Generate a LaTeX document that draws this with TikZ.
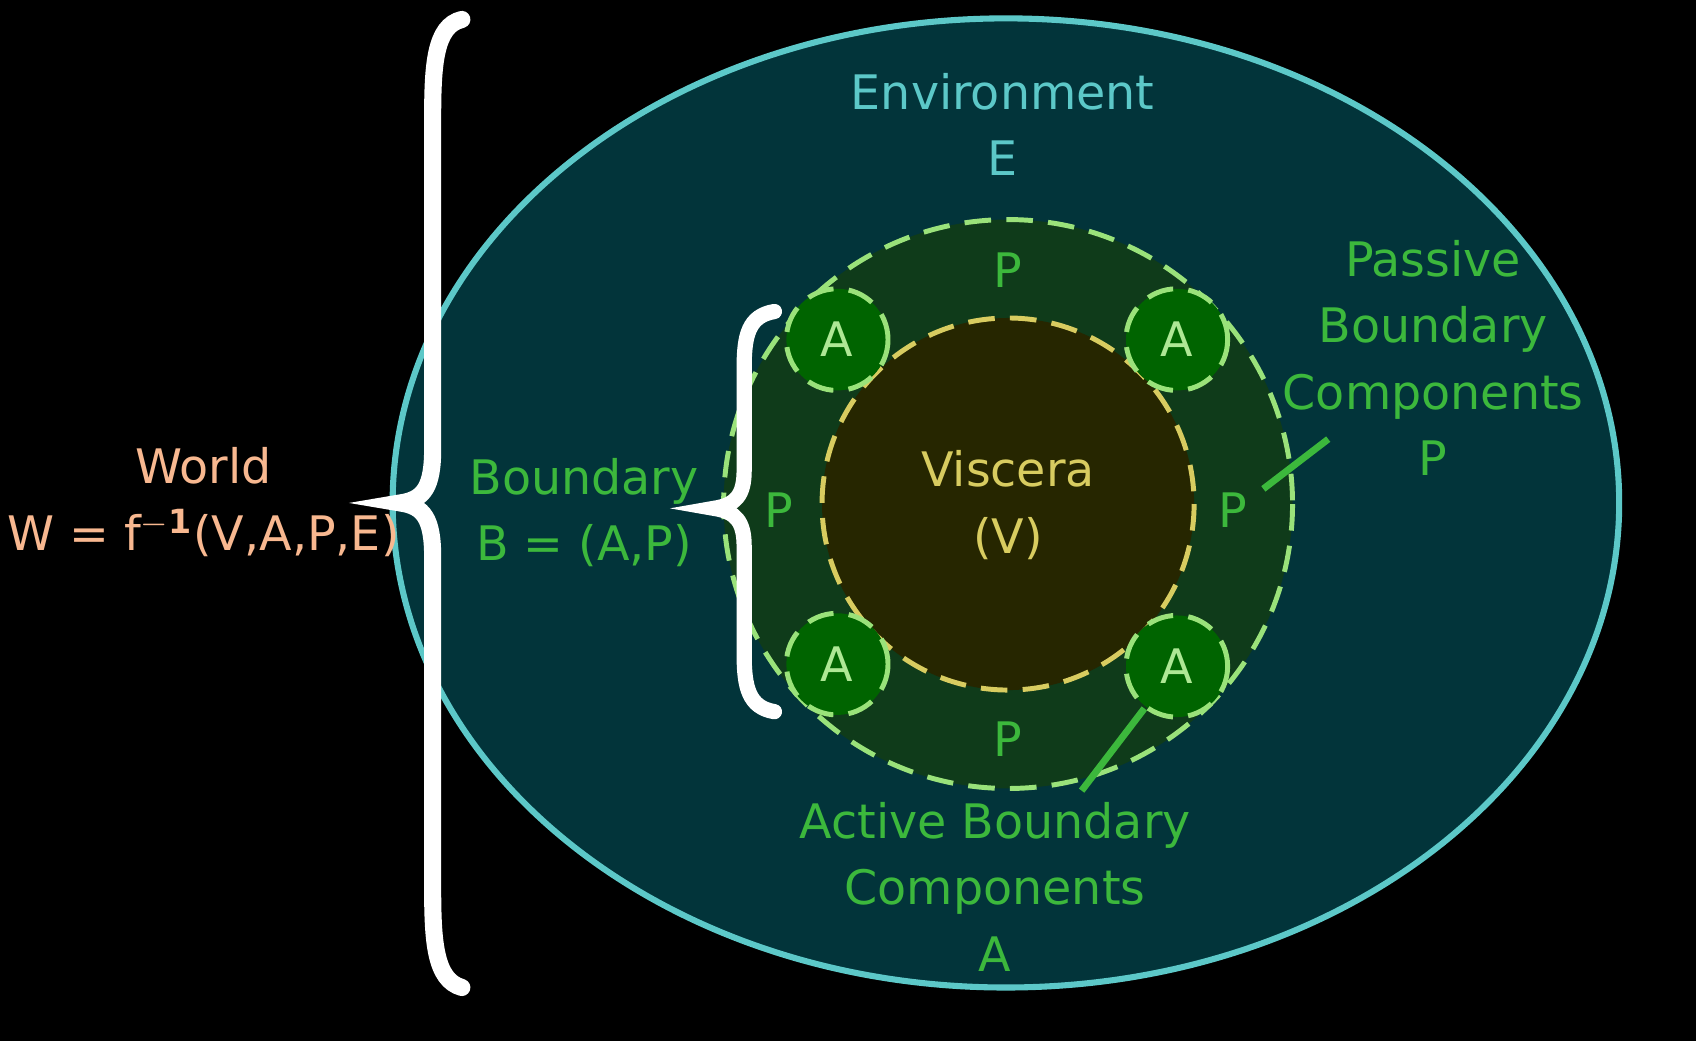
\documentclass[tikz,border=0pt]{standalone}
\usepackage{fontspec}
\setmainfont{DejaVu Sans}
\begin{document}
\begin{tikzpicture}[x=0.01cm,y=-0.01cm,
  txt/.style={font=\fontsize{12.5}{15.5}\selectfont, align=center, inner sep=0pt},
  dsh/.style={dash pattern=on 7pt off 4pt, line width=1.3pt}]
\definecolor{teal1}{HTML}{02343A}\definecolor{tealline}{HTML}{5CC8C8}
\definecolor{bgreen}{HTML}{0F3B1A}\definecolor{bline}{HTML}{9AE27A}
\definecolor{visc}{HTML}{262600}\definecolor{vline}{HTML}{D8CC60}
\definecolor{agreen}{HTML}{006400}\definecolor{gtxt}{HTML}{3CB83C}
\definecolor{world}{HTML}{F8B890}
\tikzset{grn/.style={txt,text=gtxt}}
\fill[black] (0,0) rectangle (1568,962);
\useasboundingbox (0,0) rectangle (1568,962);
\draw[tealline,fill=teal1,line width=1.6pt] (930,465) ellipse [x radius=567,y radius=448];
\draw[bline,fill=bgreen,dsh] (932,466) circle [radius=263];
\draw[vline,fill=visc,dsh] (932,466) circle [radius=172];
\foreach \n/\x/\y in {a1/774/314,a2/1088/314,a3/774/614,a4/1088/616}{
  \draw[bline,fill=agreen,dsh] (\x,\y) circle [radius=47];
  \node[txt,text=bline!80!white] (\n) at (\x,\y) {A};}
\node[txt,text=tealline] (envt) at (927,115) {Environment\\[2pt]E};
\node[grn] (p1) at (932,250) {P};
\node[grn] (p2) at (720,472) {P};
\node[grn] (p3) at (1140,472) {P};
\node[grn] (p4) at (932,683) {P};
\node[txt,text=vline] (visct) at (932,467) {Viscera\\[2pt](V)};
\node[grn] (bound) at (540,474) {Boundary\\[2pt]B = (A,P)};
\node[txt,text=world] (worldt) at (188,464) {World\\[2pt]W = f$^{\mathbf{-1}}$(V,A,P,E)};
\node[grn] (pas) at (1325,331) {Passive\\[2pt]Boundary\\[2pt]Components\\[2pt]P};
\node[grn] (act) at (920,820) {Active Boundary\\[2pt]Components\\[2pt]A};
\coordinate (l1a) at (1168,452); \coordinate (l1b) at (1228,406);
\coordinate (l2a) at (1000,731); \coordinate (l2b) at (1058,655);
\draw[gtxt,line width=1.8pt] (l1a) -- (l1b);
\draw[gtxt,line width=1.8pt] (l2a) -- (l2b);
\draw[white,line width=4.5pt,line cap=round] (427,18) .. controls (402,24) and (400,60) .. (400,110) -- (400,415) .. controls (400,450) and (392,462) .. (370,465) .. controls (392,468) and (400,480) .. (400,515) -- (400,820) .. controls (400,870) and (402,906) .. (427,913);
\draw[white,line width=4pt,line cap=round] (716,288) .. controls (692,292) and (688,310) .. (688,340) -- (688,435) .. controls (688,458) and (680,467) .. (660,470) .. controls (680,473) and (688,482) .. (688,505) -- (688,605) .. controls (688,635) and (692,654) .. (716,658);
\end{tikzpicture}
\end{document}
